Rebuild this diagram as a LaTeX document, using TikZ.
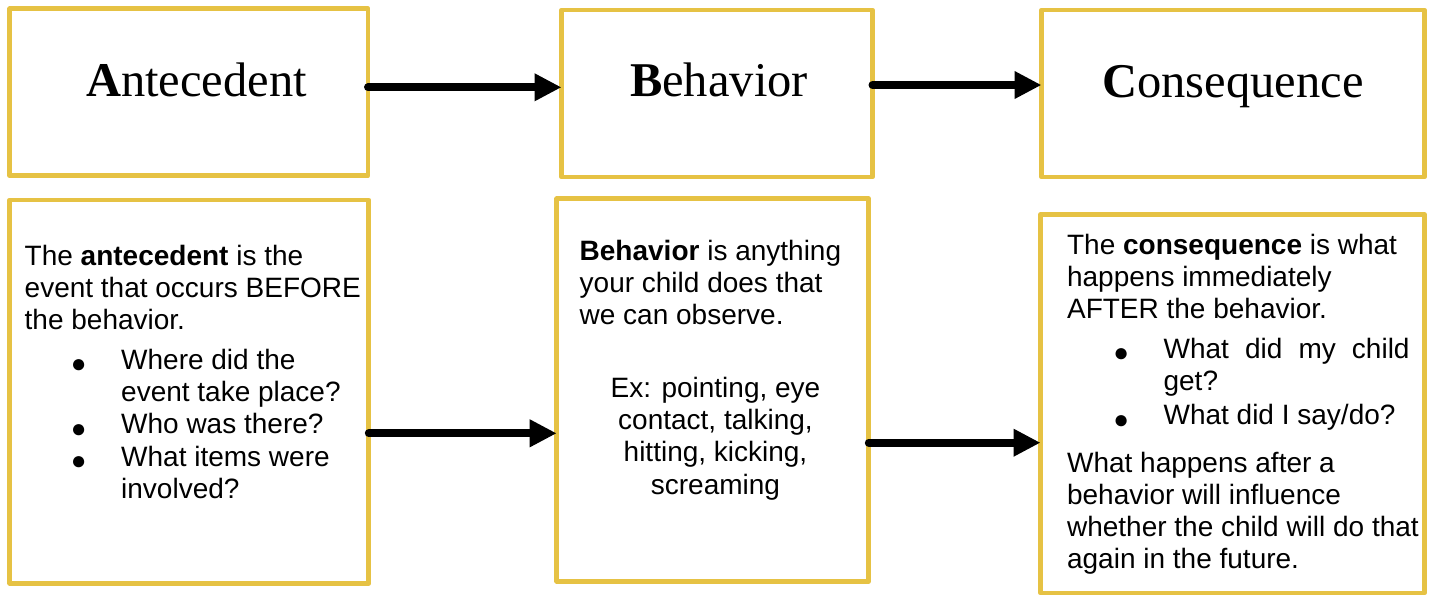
\documentclass[tikz,border=0pt]{standalone}
\usepackage{fontspec}
\setmainfont{Liberation Sans}
\newfontfamily\serifhead{Liberation Serif}
\usetikzlibrary{arrows.meta}
\definecolor{boxgold}{RGB}{230,194,68}
\newcommand{\bul}{\hspace*{27pt}\makebox[0pt]{\raisebox{-1.8pt}{\fontsize{13}{0}\selectfont ●}}\hspace*{21.25pt}}
\newcommand{\ind}{\hspace*{48.25pt}}

\begin{document}
\begin{tikzpicture}[x=0.5pt,y=-0.5pt,
        gold box/.style = {draw=boxgold,line width=2.35pt,line join=round,outer sep=0pt,inner sep=0pt},
        head/.style = {anchor=base,inner sep=0pt,font=\serifhead\fontsize{24.25}{28}\selectfont},
        body/.style = {anchor=north west,inner sep=0pt,align=left,font=\fontsize{14}{16.15}\selectfont},
        flow/.style = {line width=4pt,line cap=round,-{Triangle[length=13.5pt,width=13pt]}}]
        \useasboundingbox (0,0) rectangle (1432,596);
        \node[gold box,minimum width=179.15pt,minimum height=83.5pt] (antetop) at (188.85,92.2) {};
        \node[gold box,minimum width=155.5pt,minimum height=83.5pt] (behtop) at (717,93.5) {};
        \node[gold box,minimum width=191.5pt,minimum height=83.5pt] (constop) at (1233,93.5) {};
        \node[gold box,minimum width=179.5pt,minimum height=191.65pt] (antebot) at (189.3,391.65) {};
        \node[gold box,minimum width=156.05pt,minimum height=191.2pt] (behbot) at (712.75,390) {};
        \node[gold box,minimum width=192pt,minimum height=189.25pt] (consbot) at (1232.5,403.75) {};
        \node[head] (antehead) at (196.5,96.3) {\textbf{A}ntecedent};
        \node[head] (behhead) at (719,96.7) {\textbf{B}ehavior};
        \node[head] (conshead) at (1233,97.3) {\textbf{C}onsequence};
        \node[body] (antetext) at (24.3,244.6) {The \textbf{antecedent} is the\\ event that occurs BEFORE\\ the behavior.\\[3.5pt]
            \bul Where did the\\ \ind event take place?\\ \bul Who was there?\\ \bul What items were\\ \ind involved?};
        \node[body] (behtext) at (579.3,239.6) {\textbf{Behavior} is anything\\ your child does that\\ we can observe.};
        \node[body,anchor=north,align=center] (behex) at (715.5,376.6) {Ex: pointing, eye\\ contact, talking,\\ hitting, kicking,\\ screaming};
        \node[body] (constext) at (1066.7,233.6) {The \textbf{consequence} is what\\ happens immediately\\ AFTER the behavior.\\[3.5pt]
            \bul\makebox[123pt][s]{What did my child}\\ \ind get?\\[1pt] \bul What did I say/do?\\[7.5pt]
            What happens after a\\ behavior will influence\\ whether the child will do that\\ again in the future.};
        \draw[flow] (antetop.east |- 0,87.3) -- (behtop.west |- 0,87.3);
        \draw[flow] (behtop.east |- 0,85) -- (constop.west |- 0,85);
        \draw[flow] (antebot.east |- 0,433.3) -- (behbot.west |- 0,433.3);
        \draw[flow] (behbot.east |- 0,442.7) -- (consbot.west |- 0,442.7);
    \end{tikzpicture}
\end{document}
